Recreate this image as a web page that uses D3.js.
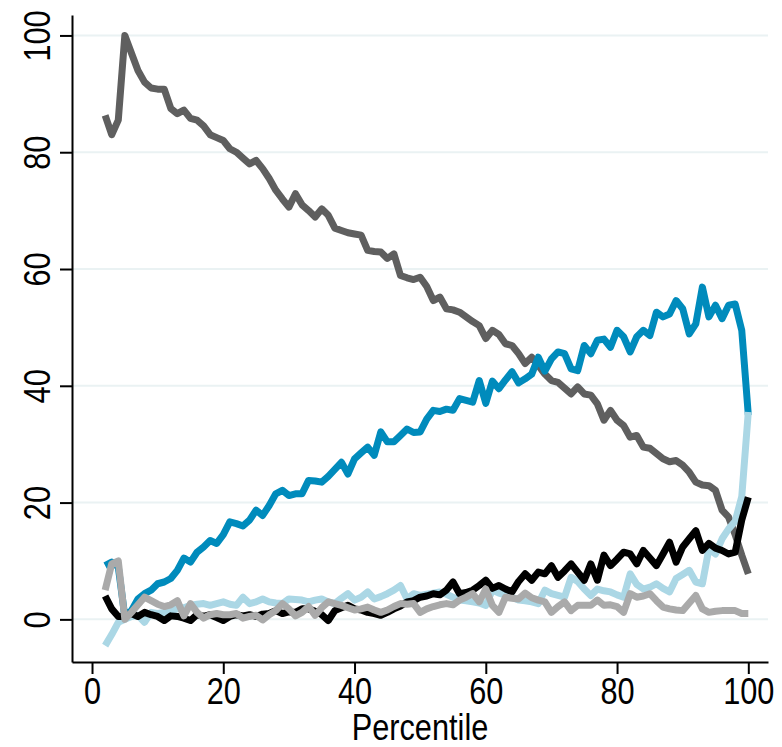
<!DOCTYPE html>
<html>
<head>
<meta charset="utf-8">
<script src="https://cdn.jsdelivr.net/npm/d3@7"></script>
<style>
  body { margin: 0; background: #fff; }
  svg text { font-family: "Liberation Sans", Arial, Helvetica, sans-serif; fill: #000; }
</style>
</head>
<body>
<svg id="chart" width="782" height="747"></svg>
<script>
// percentile groups on the x axis
const percentiles = d3.range(2, 101)

const darkGray = [86.3, 83, 85.5, 100, 97, 94, 92, 91, 90.8, 90.8, 87.5, 86.6, 87.2, 85.8, 85.5, 84.5, 83, 82.5, 82, 80.6,
  80, 79, 78, 78.6, 77.2, 75.5, 73.5, 72, 70.6, 72.9, 71, 70, 68.9, 70.3, 69.2, 67, 66.6, 66.2, 66, 65.8,
  63.2, 63, 62.9, 61.8, 62.6, 58.9, 58.5, 58.2, 58.6, 57, 54.6, 55.2, 53.2, 53, 52.6, 51.8, 51, 50.3, 48.1, 49.5,
  48.8, 47.2, 46.9, 45.5, 43.8, 44.9, 43.5, 42, 40.9, 40.6, 39.6, 38.6, 39.8, 38.6, 38.4, 36.9, 34.1, 35.8, 34.1, 33.2,
  31.2, 31.5, 29.5, 29.3, 28.4, 27.5, 27, 27.2, 26.4, 25.2, 23.5, 23, 22.9, 22.1, 18.7, 17.5, 14.5, 11, 7.8]

const blue = [9.2, 9.8, 9, 0.5, 1.5, 3.5, 4.4, 5, 6.1, 6.4, 7, 8.4, 10.5, 9.8, 11.5, 12.4, 13.5, 13, 14.5, 16.7,
  16.4, 16, 17, 18.7, 17.8, 19.5, 21.5, 22.1, 21.2, 21.5, 21.5, 23.8, 23.7, 23.5, 24.5, 25.7, 26.9, 24.9, 27.5, 28.5,
  29.5, 28.1, 32.1, 30.4, 30.4, 31.5, 32.6, 32, 32.1, 34.3, 35.8, 35.6, 36, 35.8, 37.8, 37.5, 37.2, 40.9, 37, 40.8,
  39.5, 41, 42.4, 40.5, 41.2, 42, 44.9, 42.5, 44.6, 45.8, 45.5, 42.9, 42.6, 46.9, 45.5, 47.8, 48, 46.6, 49.5, 48.4,
  45.8, 48.4, 49.5, 48.6, 52.6, 51.8, 52.3, 54.6, 53.2, 48.9, 50.6, 56.9, 51.8, 53.8, 51.5, 53.8, 54, 49.5, 35]

const black = [4, 1.8, 0.5, 0.5, 1, 0.5, 1.2, 0.8, 0.5, -0.2, 0.6, 0.5, 0.2, -0.2, 0.8, 0.5, 0.8, 0.3, -0.2, 0.5,
  0.8, 0.6, 0.8, 0.5, 0.9, 1, 1.5, 1, 1.3, 1.2, 1.8, 1.8, 1.4, 0.8, -0.2, 1.5, 2, 2.4, 1.8, 1.6,
  1.2, 1, 0.7, 1.2, 1.8, 2.3, 3, 3.2, 3.8, 4, 4.4, 4.2, 5, 6.4, 4.4, 4.6, 5, 5.8, 6.7, 5.3,
  5.8, 5.2, 4.7, 6.5, 7.8, 6.7, 8.1, 7.8, 9.2, 7.2, 8.3, 9.5, 8.1, 6.7, 9.5, 6.7, 11, 9.2, 10.3, 11.5,
  11.2, 9.5, 11.8, 10.5, 9.2, 11.2, 13.2, 9.8, 12.4, 13.8, 15.2, 11.8, 13, 12.2, 11.8, 11.2, 11.5, 17, 20.9]

const lightBlue = [-4.5, -2.6, -0.5, 0, 0.5, 0.7, -0.5, 1.2, 1, 1.2, 1.5, 1.8, 2, 2.4, 2.6, 2.7, 2.4, 2.7, 3, 2.6,
  2.4, 3.8, 2.7, 3, 3.5, 3, 2.8, 2.7, 3.5, 3.4, 3.3, 3, 3.3, 3.5, 3, 2.7, 3.6, 4.4, 3.3, 3.8,
  4.7, 3.5, 3.9, 4.4, 5, 5.8, 3.5, 4.4, 4.1, 4.3, 4.5, 4.7, 4.3, 3.8, 3.3, 3.2, 3, 2.8, 2.4, 5,
  4.5, 4.2, 3.8, 3.3, 3.2, 3, 2.7, 5, 4.4, 4.1, 3.8, 7.2, 6.5, 5.2, 4.1, 5.2, 4.9, 4.7, 4.2, 3.8,
  7.8, 6, 5.2, 5.5, 6.1, 5.3, 4.7, 7, 7.7, 8.4, 6.4, 6.1, 12.1, 11.2, 13.8, 15.5, 16.8, 21, 35.5]

const lightGray = [5, 9.5, 10, 0, 1.2, 2.5, 3.8, 3.2, 2.6, 2.2, 2.5, 3.2, 0.6, 2.7, 1.2, 0.2, 0.8, 1, 0.8, 0.8,
  1, 0.2, 0.5, 0.7, -0.1, 0.8, 1.5, 2.7, 1.8, 0.6, 1.2, 2.2, 0.7, 2, 3, 2.7, 2.4, 2, 1.6, 1.8,
  2.1, 1.6, 1.2, 1.6, 2.2, 2.7, 2.6, 2.7, 1.2, 1.8, 2.2, 2.5, 2.7, 2.5, 3.3, 3.8, 4.4, 3, 5.2, 2.4,
  1.2, 3.8, 3.6, 3.5, 4.5, 3.7, 3.3, 3, 1.2, 2.2, 3, 1.5, 2.4, 2.4, 2.4, 3.3, 2.4, 2.5, 2.2, 1.2,
  4.4, 3.8, 4, 4.4, 3.2, 2.1, 1.8, 1.6, 1.5, 2.8, 4.1, 1.8, 1.2, 1.4, 1.5, 1.5, 1.5, 1, 1]

const xTicks = [0, 20, 40, 60, 80, 100]
const yTicks = [0, 20, 40, 60, 80, 100]
const xTitle = "Percentile"

// drawing order follows the original plot
const series = [
  { values: darkGray, color: "#5f5f5f" },
  { values: blue, color: "#008bbc" },
  { values: lightBlue, color: "#abd7e5" },
  { values: black, color: "#000000" },
  { values: lightGray, color: "#aaaaaa" },
]

const svg = d3.select("#chart")
const plot = { left: 72, right: 768, top: 15, bottom: 662 }
const fontSize = 37
const narrow = "scale(0.83,1)" // stata draws with a narrow helvetica

const x = d3.scaleLinear().domain([-3.05, 103]).range([plot.left, plot.right])
const y = d3.scaleLinear().domain([-7.3, 103.5]).range([plot.bottom, plot.top])

// grid
svg.append("g")
  .selectAll("line")
  .data(yTicks)
  .enter().append("line")
  .attr("x1", plot.left)
  .attr("x2", plot.right)
  .attr("y1", d => y(d))
  .attr("y2", d => y(d))
  .attr("stroke", "#eaf2f3")
  .attr("stroke-width", 2)

// lines
const line = d3.line()
  .x((d, i) => x(percentiles[i]))
  .y(d => y(d))

svg.append("g")
  .selectAll("path")
  .data(series)
  .enter().append("path")
  .attr("d", d => line(d.values))
  .attr("fill", "none")
  .attr("stroke", d => d.color)
  .attr("stroke-width", 7)
  .attr("stroke-linejoin", "round")
  .attr("stroke-linecap", "butt")

// axes
const xAxis = svg.append("g")
  .attr("transform", "translate(0," + plot.bottom + ")")
  .call(d3.axisBottom(x).tickValues(xTicks).tickSize(12).tickSizeOuter(0).tickPadding(4))
xAxis.selectAll("text")
  .attr("transform", narrow)
  .style("font-size", fontSize + "px")

const yAxis = svg.append("g")
  .attr("transform", "translate(" + plot.left + ",0)")
  .call(d3.axisLeft(y).tickValues(yTicks).tickSize(12).tickSizeOuter(0))
yAxis.selectAll("text")
  .attr("x", 0)
  .attr("y", -22)
  .attr("dy", 0)
  .attr("transform", "rotate(-90) " + narrow)
  .style("text-anchor", "middle")
  .style("font-size", fontSize + "px")

svg.selectAll(".domain, .tick line").attr("stroke", "#000").attr("stroke-width", 2)

svg.append("text")
  .attr("transform", "translate(" + (plot.left + plot.right) / 2 + ",740) " + narrow)
  .style("text-anchor", "middle")
  .style("font-size", fontSize + "px")
  .text(xTitle)
</script>
</body>
</html>
